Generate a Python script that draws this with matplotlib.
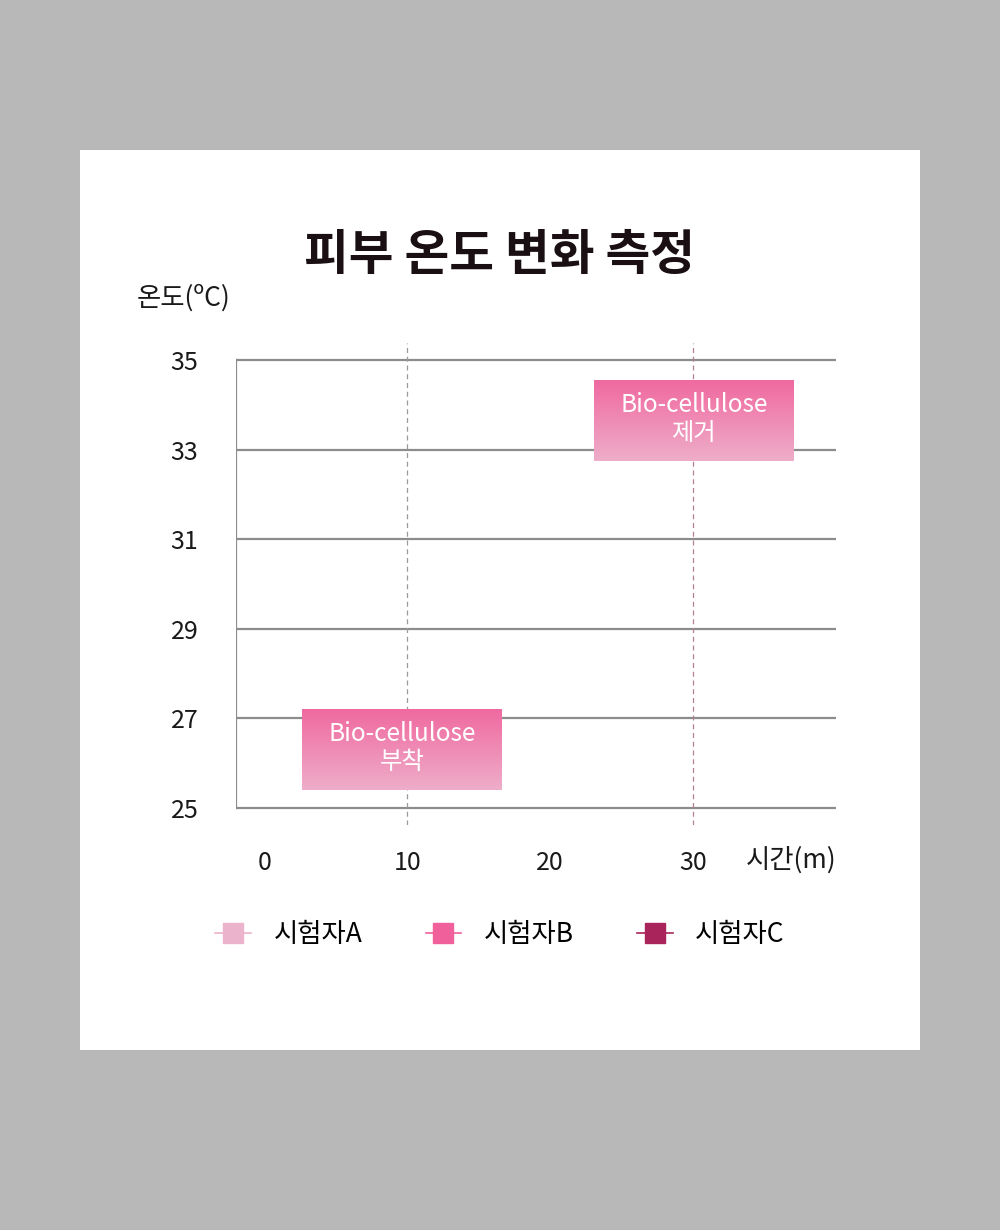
import matplotlib.pyplot as plt
import numpy as np
from matplotlib.patches import Rectangle
from matplotlib.colors import LinearSegmentedColormap

plt.rcParams['font.family'] = ['Noto Sans CJK KR', 'DejaVu Sans']

title = '피부 온도 변화 측정'
y_label = '온도(ºC)'
x_label = '시간(m)'
x_ticks = [0, 10, 20, 30]
y_ticks = [25, 27, 29, 31, 33, 35]
marked_times = [10, 30]
series_names = ['시험자A', '시험자B', '시험자C']
series_colors = ['#ebb3cc', '#f0609a', '#a8245a']
# annotation boxes: label, (x0, x1), (y0, y1)
notes = ['Bio-cellulose\n부착', 'Bio-cellulose\n제거']
note_x = [(2.65, 16.65), (23.05, 37.05)]
note_y = [(25.4, 27.2), (32.75, 34.55)]

fig = plt.figure(figsize=(10, 12.3), dpi=100)
fig.patch.set_facecolor('#b8b8b8')
fig.patches.append(Rectangle((0.08, 1 - 1050 / 1230), 0.84, 900 / 1230,
                             transform=fig.transFigure, facecolor='white',
                             edgecolor='none', zorder=-1))

ax = fig.add_axes([0.236, 1 - 825 / 1230, 0.6, 482 / 1230])
ax.set_zorder(2)
ax.set_facecolor('none')
for s in ax.spines.values():
    s.set_visible(False)

# horizontal grid
for y in y_ticks:
    ax.plot([-2, 40], [y, y], color='#8c8c8c', lw=1.6, zorder=1)
ax.plot([-2, -2], [25, 35], color='#8c8c8c', lw=1.6, zorder=1)
# dashed markers
ax.axvline(marked_times[0], color='#9a9a9a', lw=0.9, ls=(0, (4, 3)), zorder=1)
ax.axvline(marked_times[1], color='#b48098', lw=0.9, ls=(0, (4, 3)), zorder=1)

ax.set_xticks(x_ticks)
ax.set_yticks(y_ticks)
ax.tick_params(length=0, labelsize=18, colors='#1a1a1a')
ax.tick_params(axis='y', pad=27)
ax.tick_params(axis='x', pad=18)

# gradient boxes
grad = np.linspace(0, 1, 100).reshape(-1, 1)
cmap = LinearSegmentedColormap.from_list('pk', ['#f06aa0', '#eeadc9'])
for txt, (x0, x1), (y0, y1) in zip(notes, note_x, note_y):
    ax.imshow(grad, cmap=cmap, extent=[x0, x1, y0, y1], aspect='auto',
              origin='upper', zorder=3)
    ax.text((x0 + x1) / 2, (y0 + y1) / 2 + 0.03, txt, color='white',
            ha='center', va='center', fontsize=17.5, linespacing=1.1, zorder=4)
ax.set_xlim(-2, 40)
ax.set_ylim(24.62, 35.38)

fig.text(0.5, 1 - 255 / 1230, title, ha='center', va='center',
         fontsize=35, fontweight='bold', color='#1a0f12')
fig.text(0.137, 1 - 298 / 1230, y_label, ha='left', va='center',
         fontsize=19, color='#1a1a1a')
fig.text(0.836, 1 - 860 / 1230, x_label, ha='right', va='center',
         fontsize=19, color='#1a1a1a')

handles = []
for name, c in zip(series_names, series_colors):
    h, = ax.plot([], [], color=c, marker='s', markersize=14, lw=1.2, label=name)
    handles.append(h)
fig.legend(handles=handles, loc='center', bbox_to_anchor=(0.5, 1 - 935 / 1230),
           ncol=3, frameon=False, fontsize=19, handlelength=1.35,
           columnspacing=2.4, handletextpad=0.85)

fig.savefig('out.png', dpi=100, facecolor=fig.get_facecolor())
